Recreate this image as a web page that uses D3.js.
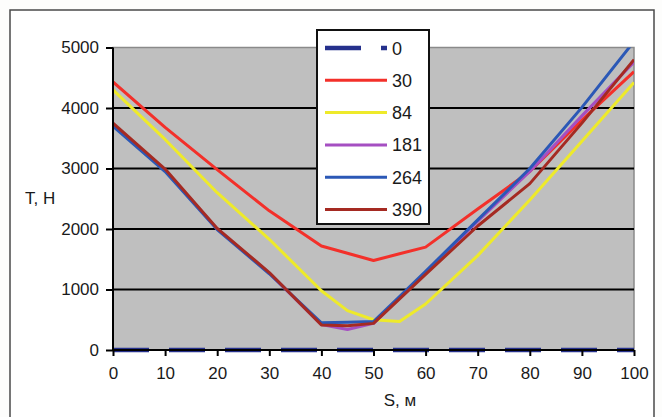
<!DOCTYPE html>
<html>
<head>
<meta charset="utf-8">
<script src="https://cdn.jsdelivr.net/npm/d3@7"></script>
<style>
  html, body { margin: 0; padding: 0; background: #fdfdfc; }
  svg { display: block; }
  text { font-family: "Liberation Sans", Arial, sans-serif; fill: #1a1a1a; }
</style>
</head>
<body>
<svg id="chart" width="662" height="417"></svg>
<script>
// ---- data ----
const S = [0, 10, 20, 30, 40, 45, 50, 55, 60, 70, 80, 90, 100];
const seriesNames = ["0", "30", "84", "181", "264", "390"];
const t0   = [0, 0, 0, 0, 0, 0, 0, 0, 0, 0, 0, 0, 0];
const t30  = [4430, 3680, 2980, 2300, 1720, 1600, 1480, 1590, 1700, 2330, 2950, 3800, 4600];
const t84  = [4300, 3480, 2600, 1830, 980, 650, 500, 470, 760, 1560, 2480, 3450, 4420];
const t181 = [3720, 2970, 2000, 1270, 420, 340, 440, 860, 1280, 2130, 2950, 3870, 4760];
const t264 = [3700, 2950, 1990, 1260, 450, 460, 470, 885, 1300, 2150, 3000, 4010, 5100];
const t390 = [3750, 2990, 2010, 1280, 415, 400, 440, 845, 1250, 2050, 2750, 3750, 4800];
const seriesValues = [t0, t30, t84, t181, t264, t390];
const seriesColors = ["#25308c", "#f3302a", "#eeea2a", "#a54fc2", "#2b58b6", "#a52a22"];
const xTicks = [0, 10, 20, 30, 40, 50, 60, 70, 80, 90, 100];
const yTicks = [0, 1000, 2000, 3000, 4000, 5000];
const xTitle = "S, м";
const yTitle = "Т, Н";

// ---- layout ----
const svg = d3.select("#chart");
const L = 113, R = 634, T = 47.5, B = 350;
const x = d3.scaleLinear().domain([0, 100]).range([L, R]);
const y = d3.scaleLinear().domain([0, 5000]).range([B, T]);

// outer frame
svg.append("rect").attr("x", 10).attr("y", 10).attr("width", 644).attr("height", 420)
  .attr("fill", "#ffffff").attr("stroke", "#4a4a4a").attr("stroke-width", 1.5);

// plot area
svg.append("rect").attr("x", L).attr("y", T).attr("width", R - L).attr("height", B - T)
  .attr("fill", "#bfbfbf").attr("stroke", "#8a8a8a").attr("stroke-width", 1.5);

// gridlines
svg.append("g").selectAll("line").data(yTicks.filter(v => v > 0 && v < 5000)).join("line")
  .attr("x1", L).attr("x2", R).attr("y1", d => y(d)).attr("y2", d => y(d))
  .attr("stroke", "#000").attr("stroke-width", 2);

// clip
svg.append("clipPath").attr("id", "clip").append("rect")
  .attr("x", L).attr("y", T).attr("width", R - L).attr("height", B - T + 4);

const line = d3.line().x((d, i) => x(S[i])).y(d => y(d));
const gLines = svg.append("g").attr("clip-path", "url(#clip)");
seriesValues.forEach((vals, k) => {
  gLines.append("path").datum(vals).attr("d", line)
    .attr("fill", "none").attr("stroke", seriesColors[k])
    .attr("stroke-width", k === 0 ? 4.5 : 3)
    .attr("stroke-linejoin", "round")
    .attr("stroke-dasharray", k === 0 ? "36,20" : null);
});

// axes
const xAxis = d3.axisBottom(x).tickValues(xTicks).tickSize(6).tickPadding(11).tickFormat(d3.format("d"));
const yAxis = d3.axisLeft(y).tickValues(yTicks).tickSize(7).tickPadding(7).tickFormat(d3.format("d"));
const gx = svg.append("g").attr("transform", `translate(0,${B})`).call(xAxis);
const gy = svg.append("g").attr("transform", `translate(${L},0)`).call(yAxis);
[gx, gy].forEach(g => {
  g.select(".domain").attr("stroke", "#000").attr("stroke-width", 2);
  g.selectAll(".tick line").attr("stroke", "#000").attr("stroke-width", 2);
  g.selectAll(".tick text").attr("font-size", 17).attr("fill", "#1a1a1a")
    .attr("font-family", "Liberation Sans, Arial, sans-serif");
});
gy.select(".domain").attr("d", `M0,${B}V${T}`);
gx.select(".domain").attr("d", `M${L},0H${R}`);

// titles
svg.append("text").attr("x", 400).attr("y", 406).attr("text-anchor", "middle")
  .attr("font-size", 17).text(xTitle);
svg.append("text").attr("x", 25).attr("y", 204).attr("text-anchor", "start")
  .attr("font-size", 17).text(yTitle);

// legend
const lg = svg.append("g");
lg.append("rect").attr("x", 317).attr("y", 30).attr("width", 112).attr("height", 194)
  .attr("fill", "#ffffff").attr("stroke", "#111").attr("stroke-width", 2);
seriesNames.forEach((name, k) => {
  const yy = 48 + k * 32.3;
  lg.append("line").attr("x1", 325).attr("x2", 387).attr("y1", yy).attr("y2", yy)
    .attr("stroke", seriesColors[k]).attr("stroke-width", k === 0 ? 4.5 : 3)
    .attr("stroke-dasharray", k === 0 ? "36,20" : null);
  lg.append("text").attr("x", 392).attr("y", yy + 6.5).attr("font-size", 18).text(name);
});
</script>
</body>
</html>
